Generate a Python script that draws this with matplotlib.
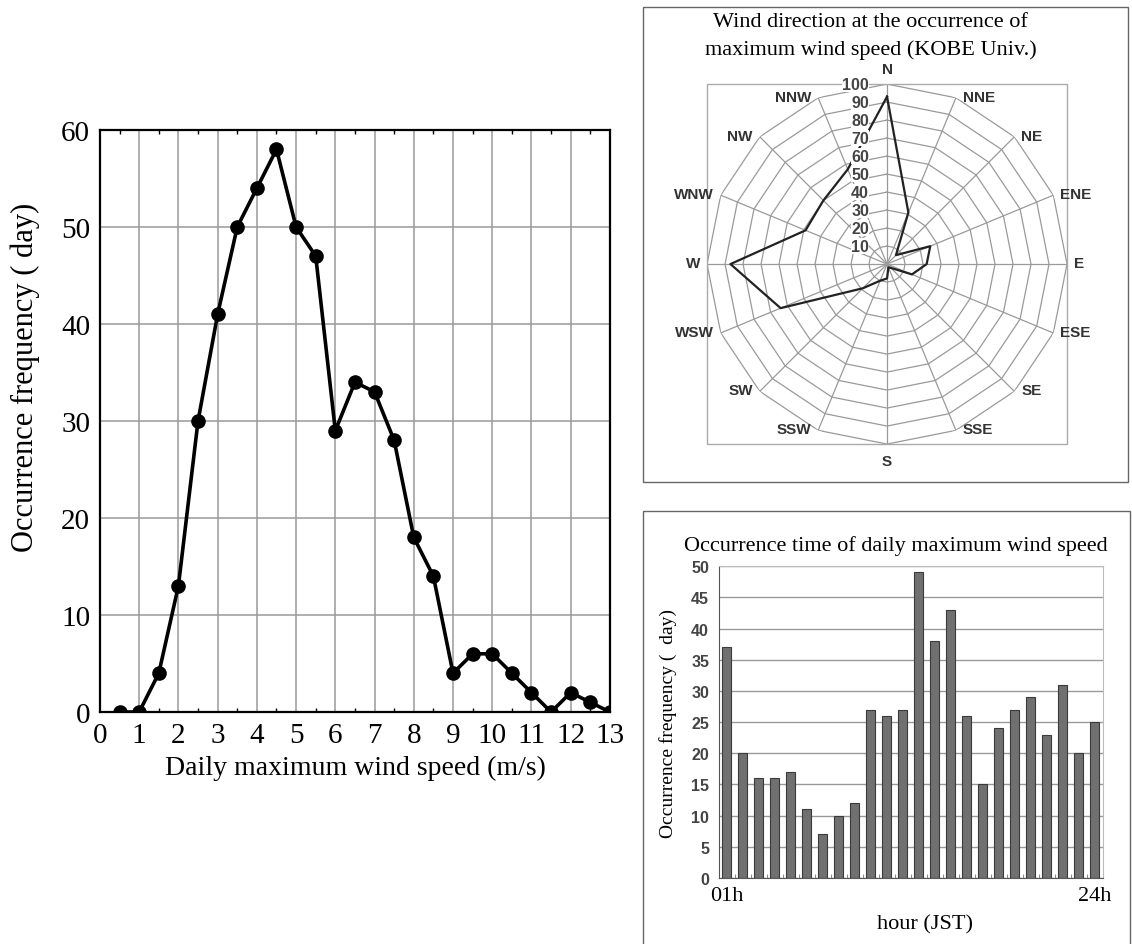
"""Daily maximum wind speed summary: frequency curve, wind-direction radar and hourly bars."""

import matplotlib

matplotlib.use("Agg")

import matplotlib.pyplot as plt
import numpy as np
from matplotlib.patches import Rectangle

# daily maximum wind speed (m/s) vs occurrence (days)
speed_bins = [0.5, 1, 1.5, 2, 2.5, 3, 3.5, 4, 4.5, 5, 5.5, 6, 6.5,
              7, 7.5, 8, 8.5, 9, 9.5, 10, 10.5, 11, 11.5, 12, 12.5, 13]
speed_days = [0, 0, 4, 13, 30, 41, 50, 54, 58, 50, 47, 29, 34,
              33, 28, 18, 14, 4, 6, 6, 4, 2, 0, 2, 1, 0]

# wind direction at the time of the maximum, clockwise from north
directions = ["N", "NNE", "NE", "ENE", "E", "ESE", "SE", "SSE",
              "S", "SSW", "SW", "WSW", "W", "WNW", "NW", "NNW"]
direction_counts = [93, 31, 7, 26, 22, 15, 3, 2, 8, 10, 19, 64, 87, 49, 50, 57]
ring_levels = [10, 20, 30, 40, 50, 60, 70, 80, 90, 100]

# hour of the day (JST) when the daily maximum occurred
hours = list(range(1, 25))
hour_days = [37, 20, 16, 16, 17, 11, 7, 10, 12, 27, 26, 27,
             49, 38, 43, 26, 15, 24, 27, 29, 23, 31, 20, 25]

SERIF = "Liberation Serif"
SANS = "Liberation Sans"
GRID = "#9a9a9a"


def draw_speed_curve(fig):
    """Left panel: occurrence frequency by daily maximum wind speed."""

    ax = fig.add_axes([0.0883, 0.2455, 0.4505, 0.6159])
    ax.plot(speed_bins, speed_days, color="black", lw=2.6, marker="o",
            markersize=9.5, zorder=3)
    ax.set_xlim(0, 13)
    ax.set_ylim(0, 60)
    ax.set_xticks(range(0, 14))
    ax.set_xticks(np.arange(0.5, 13, 1), minor=True)
    ax.set_yticks(range(0, 61, 10))
    ax.grid(True, which="major", color=GRID, lw=1.1)
    ax.tick_params(which="both", direction="in", top=True, right=True,
                   labelsize=21, pad=7)
    ax.tick_params(which="major", length=0)
    ax.tick_params(which="minor", length=3, width=1, left=False, right=False)
    for label in ax.get_xticklabels() + ax.get_yticklabels():
        label.set_fontfamily(SERIF)
    for spine in ax.spines.values():
        spine.set_linewidth(1.6)
    ax.set_xlabel("Daily maximum wind speed (m/s)", family=SERIF, fontsize=20,
                  labelpad=5)
    ax.set_ylabel("Occurrence frequency ( day)", family=SERIF, fontsize=22)
    # the label sits a little above the middle of the axis in the original
    ax.yaxis.set_label_coords(-0.118, 0.577)


def draw_direction_radar(fig):
    """Top right panel: radar chart of wind direction counts."""

    ax = fig.add_axes([0.6246, 0.529, 0.318, 0.381], projection="polar")
    ax.set_theta_zero_location("N")
    ax.set_theta_direction(-1)
    ax.set_ylim(0, 100)
    ax.grid(False)
    ax.set_xticks([])
    ax.set_yticks([])
    ax.spines["polar"].set_visible(False)

    theta = np.deg2rad(np.arange(len(directions)) * 360 / len(directions))
    ring_theta = np.append(theta, theta[0])
    for level in ring_levels:
        ax.plot(ring_theta, [level] * len(ring_theta), color=GRID, lw=0.9, zorder=1)
    for angle in theta:
        ax.plot([angle, angle], [0, 100], color=GRID, lw=0.9, zorder=1)

    counts = direction_counts + direction_counts[:1]
    ax.plot(ring_theta, counts, color="#222222", lw=1.6, zorder=2)

    for level in ring_levels:
        ax.annotate(str(level), xy=(0, level), xytext=(-18, 0),
                    textcoords="offset pixels", ha="right", va="center",
                    family=SANS, fontweight="bold", fontsize=11.5, color="#444444",
                    bbox=dict(facecolor="white", edgecolor="none", pad=0.1),
                    zorder=4, annotation_clip=False)

    for angle, name in zip(theta, directions):
        sin = np.sin(angle)
        if abs(sin) < 1e-6:
            ha = "center"
            offset = (0, 15 if np.cos(angle) > 0 else -17)
        elif sin > 0:
            ha = "left"
            offset = (7, 1)
        else:
            ha = "right"
            offset = (-7, 1)
        ax.annotate(name, xy=(angle, 100), xytext=offset, textcoords="offset pixels",
                    ha=ha, va="center", family=SANS, fontweight="bold",
                    fontsize=11, color="#333333", annotation_clip=False)

    ax.add_patch(Rectangle((0, 0), 1, 1, transform=ax.transAxes, fill=False,
                           edgecolor="#aaaaaa", lw=1, clip_on=False))
    fig.text(0.769, 0.9767, "Wind direction at the occurrence of", family=SERIF,
             fontsize=16, ha="center", va="center")
    fig.text(0.769, 0.947, "maximum wind speed (KOBE Univ.)", family=SERIF,
             fontsize=16, ha="center", va="center")


def draw_hour_bars(fig):
    """Bottom right panel: occurrence time of the daily maximum."""

    ax = fig.add_axes([0.635, 0.0698, 0.339, 0.330])
    ax.bar(hours, hour_days, width=0.56, color="#707070", edgecolor="#3a3a3a",
           lw=0.8, zorder=3)
    ax.set_xlim(0.5, 24.5)
    ax.set_ylim(0, 50)
    ax.set_yticks(range(0, 51, 5))
    ax.set_xticks([1, 24])
    ax.set_xticklabels(["01h", "24h"], family=SERIF, fontsize=16)
    ax.set_xticks(np.arange(1.5, 24, 1), minor=True)
    ax.yaxis.grid(True, color=GRID, lw=1)
    ax.set_axisbelow(True)
    ax.tick_params(axis="x", which="major", length=0, pad=6)
    ax.tick_params(axis="x", which="minor", direction="in", length=3, color="#777777")
    ax.tick_params(axis="y", length=0, pad=7)
    for label in ax.get_yticklabels():
        label.set_fontfamily(SANS)
        label.set_fontweight("bold")
        label.set_fontsize(11.5)
        label.set_color("#444444")
    ax.spines["left"].set_color("#555555")
    ax.spines["bottom"].set_color("#555555")
    ax.spines["top"].set_color("#bbbbbb")
    ax.spines["right"].set_color("#bbbbbb")
    ax.set_xlabel("hour (JST)", family=SERIF, fontsize=16)
    ax.xaxis.set_label_coords(0.536, -0.115)
    ax.set_ylabel("Occurrence frequency (  day)", family=SERIF, fontsize=14)
    ax.yaxis.set_label_coords(-0.109, 0.5)
    ax.set_title("Occurrence time of daily maximum wind speed", family=SERIF,
                 fontsize=16, pad=12, x=0.461)


def main():
    fig = plt.figure(figsize=(11.32, 9.45), dpi=100)
    fig.patch.set_facecolor("white")

    # thin frames around the two right-hand panels
    fig.add_artist(Rectangle((0.568, 0.489), 0.4284, 0.5026, transform=fig.transFigure,
                             fill=False, edgecolor="#666666", lw=1))
    fig.add_artist(Rectangle((0.568, -0.01), 0.430, 0.468, transform=fig.transFigure,
                             fill=False, edgecolor="#666666", lw=1))

    draw_speed_curve(fig)
    draw_direction_radar(fig)
    draw_hour_bars(fig)

    fig.savefig("out.png", dpi=100)
    plt.close(fig)


if __name__ == "__main__":
    main()
